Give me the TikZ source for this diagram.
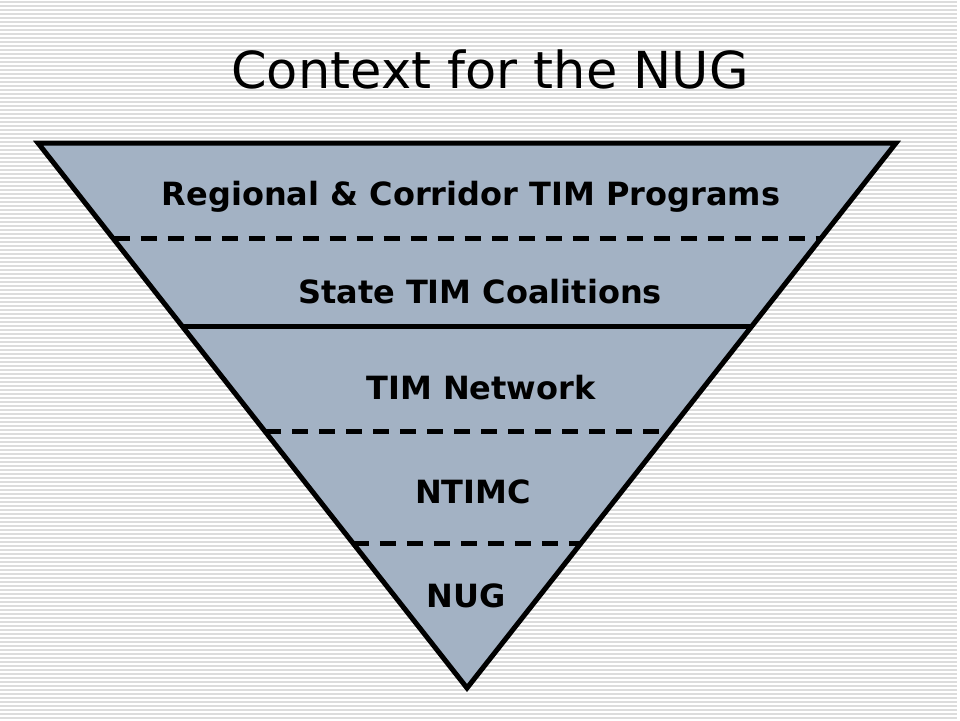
\documentclass[tikz,border=0pt]{standalone}
\usepackage{fontspec}
\setmainfont{DejaVu Sans}
\usetikzlibrary{positioning, calc}
\definecolor{tierfill}{HTML}{A3B2C4}
\definecolor{stripe}{HTML}{DCDCDC}

\tikzset{
  tier/.style={font=\bfseries\fontsize{32}{38}\selectfont, inner sep=0pt},
  divider/.style={line width=5pt, dash pattern=on 16pt off 11pt},
}

\begin{document}
\begin{tikzpicture}[x=1pt, y=-1pt]
                    \useasboundingbox (0, 0) rectangle (960, 720);
                    % striped backdrop
                    \fill[white] (0, 0) rectangle (960, 720);
                    \foreach \y in {2, 6, ..., 718}
                        \draw[stripe, line width=1.2pt] (0, \y) -- (957, \y);

                    \node[font=\fontsize{51}{58}\selectfont] (title) at (490, 69) {Context for the NUG};

                    \coordinate (tl) at (38, 143);
                    \coordinate (tr) at (896, 143);
                    \coordinate (apex) at (467, 688);
                    \filldraw[fill=tierfill, line width=5pt, line join=miter] (tl) -- (tr) -- (apex) -- cycle;

                    \coordinate (d1l) at ($(tl)!0.176!(apex)$);
                    \coordinate (d1r) at ($(tr)!0.176!(apex)$);
                    \coordinate (d2l) at ($(tl)!0.3376!(apex)$);
                    \coordinate (d2r) at ($(tr)!0.3376!(apex)$);
                    \coordinate (d3l) at ($(tl)!0.530!(apex)$);
                    \coordinate (d3r) at ($(tr)!0.530!(apex)$);
                    \coordinate (d4l) at ($(tl)!0.734!(apex)$);
                    \coordinate (d4r) at ($(tr)!0.734!(apex)$);

                    \draw[divider] (d1l) -- (d1r);
                    \draw[line width=5pt] (d2l) -- (d2r);
                    \draw[divider] (d3l) -- (d3r);
                    \draw[divider] (d4l) -- (d4r);

                    \node[tier] (regional) at (471, 197) {Regional \& Corridor TIM Programs};
                    \node[tier] (state) at (480, 292) {State TIM Coalitions};
                    \node[tier] (network) at (481, 388) {TIM Network};
                    \node[tier] (ntimc) at (473, 492) {NTIMC};
                    \node[tier] (nug) at (466, 596) {NUG};
                \end{tikzpicture}
\end{document}
